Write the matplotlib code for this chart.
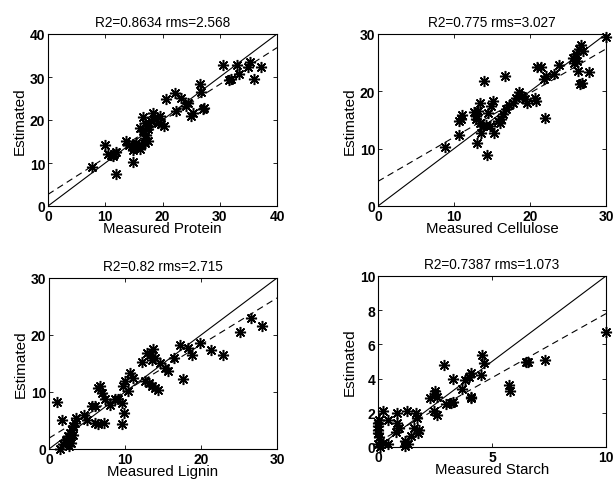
import matplotlib
matplotlib.use("Agg")
import matplotlib.pyplot as plt
import numpy as np

plt.rcParams['font.family'] = ['Liberation Sans', 'DejaVu Sans']

# ---------------- data ----------------
protein_meas = [7.6, 10.0, 11.9, 10.5, 11.0, 11.5, 11.9, 11.3, 14.9,
                13.7, 14.2, 14.7, 15.1, 15.7, 16.3, 16.9, 17.4, 15.4, 14.8, 16.0,
                16.9, 17.2, 16.6, 16.0, 16.6, 16.9, 17.4, 18.3, 18.6, 19.2, 19.8,
                20.3, 19.5, 18.0, 17.4,
                20.6, 22.1, 23.3, 22.4, 24.4, 24.1, 25.0, 25.3, 27.0, 27.3, 26.6,
                26.7, 30.6, 31.6, 32.0, 33.0, 33.4, 34.9, 35.3, 36.0, 37.2]
protein_est = [9.1, 14.1, 7.4, 12.2, 11.8, 12.2, 12.6, 11.7, 10.3,
               15.1, 14.3, 14.0, 13.6, 14.0, 14.3, 14.7, 15.1, 14.7, 13.0, 13.2,
               15.9, 16.4, 17.4, 18.2, 20.7, 19.3, 18.6, 21.7, 20.2, 19.4, 19.0,
               18.6, 20.9, 19.8, 17.8,
               24.8, 26.2, 25.2, 22.1, 23.9, 23.3, 20.9, 21.7, 22.6, 22.8, 28.3,
               26.4, 32.7, 29.3, 29.5, 32.9, 30.6, 32.4, 33.6, 29.6, 32.4]

cell_meas = [8.85, 10.6, 10.6, 11.1, 10.9, 12.6, 12.9, 13.1, 13.4, 13.0, 13.6,
             14.0, 14.3, 13.8, 14.2, 14.7, 14.9, 15.1, 14.5, 15.2, 12.9, 13.4,
             15.8, 16.2, 16.0, 16.5, 16.7, 16.9, 17.3, 17.8, 18.2, 18.5, 18.9,
             19.3, 19.6, 20.7, 20.8, 20.9, 21.4, 22.0, 21.9, 22.1, 23.2, 23.8,
             25.7, 26.0, 26.2, 25.8, 26.4, 26.7, 27.0, 26.3, 26.6, 26.9, 27.7, 30.0]
cell_est = [10.3, 12.3, 14.8, 15.8, 15.2, 16.4, 15.7, 16.6, 18.0, 11.0, 12.7,
            21.8, 8.9, 13.9, 14.2, 13.9, 17.4, 18.3, 16.3, 12.7, 15.1, 14.5,
            14.8, 15.1, 14.5, 16.0, 22.7, 17.0, 17.6, 18.0, 18.9, 19.8, 19.2,
            18.7, 17.9, 18.9, 18.3, 24.2, 24.3, 15.4, 22.1, 22.7, 23.0, 24.6,
            25.9, 26.5, 25.3, 25.0, 27.4, 28.1, 27.1, 23.6, 21.2, 21.5, 23.4, 29.4]

lignin_meas = [1.1, 1.7, 1.4, 1.9, 2.3, 2.5, 2.8, 3.0, 3.2, 3.4, 2.9, 2.6, 3.2,
               3.6, 2.8, 4.6, 5.0, 5.6, 6.0, 6.1, 6.5, 7.2, 6.5, 6.7, 7.0, 7.4,
               8.0, 8.7, 9.1, 9.6, 9.6, 9.9, 9.8, 10.0, 10.4, 10.7, 11.0, 12.6,
               13.1, 13.5, 14.0, 14.4, 12.2, 12.9, 13.3, 13.7, 13.5, 14.0, 14.6,
               15.3, 15.6, 16.4, 17.3, 17.6, 18.3, 18.8, 19.9, 21.3, 22.9, 25.1,
               26.6, 28.0]
lignin_est = [8.2, 5.1, 0.0, 0.8, 1.6, 2.2, 2.8, 3.4, 4.0, 4.6, 1.1, 0.5, 2.5,
              5.4, 1.9, 6.0, 5.1, 7.5, 7.6, 4.6, 4.3, 4.6, 10.7, 11.0, 9.8, 8.8,
              7.8, 8.8, 8.8, 8.1, 4.4, 6.3, 11.0, 11.9, 10.1, 13.3, 12.5, 11.9,
              11.6, 11.0, 10.7, 10.4, 15.2, 16.8, 16.5, 17.5, 15.7, 16.0, 15.1,
              14.2, 13.6, 16.0, 18.3, 12.2, 17.7, 16.5, 18.6, 17.3, 16.5, 20.5,
              23.0, 21.6]

starch_meas = [0.0, 0.0, 0.0, 0.0, 0.05, 0.05, 0.0, 0.1, 0.2, 0.23, 0.44, 0.44,
               0.85, 0.85, 0.8, 0.9, 1.25, 1.2, 1.3, 1.17, 1.43, 1.6, 1.65, 1.7,
               1.75, 1.8, 2.3, 2.45, 2.5, 2.5, 2.6, 2.6, 2.9, 3.0, 3.2, 3.3, 3.3,
               3.7, 3.8, 4.0, 4.06, 4.06, 4.1, 4.5, 4.57, 4.67, 5.74, 5.78, 6.5,
               6.57, 7.34, 10.0]
starch_est = [1.4, 1.2, 1.0, 0.8, 1.6, 0.6, 0.15, 0.0, 0.25, 2.1, 1.6, 0.2,
              2.0, 1.4, 0.9, 1.1, 2.1, 0.35, 0.15, 0.05, 0.64, 1.1, 2.0, 1.7,
              0.84, 1.0, 2.85, 2.1, 3.3, 3.1, 2.9, 1.9, 4.8, 2.5, 2.6, 2.65, 4.0,
              3.4, 3.9, 4.1, 4.35, 2.9, 2.85, 4.2, 5.4, 4.9, 3.6, 3.3, 5.0, 5.0,
              5.07, 6.7]

titles = ["R2=0.8634 rms=2.568", "R2=0.775 rms=3.027",
          "R2=0.82 rms=2.715", "R2=0.7387 rms=1.073"]
xlabels = ["Measured Protein", "Measured Cellulose",
           "Measured Lignin", "Measured Starch"]
limits = [40, 30, 30, 10]
xticks_list = [[0, 10, 20, 30, 40], [0, 10, 20, 30], [0, 10, 20, 30], [0, 5, 10]]
yticks_list = [[0, 10, 20, 30, 40], [0, 10, 20, 30], [0, 10, 20, 30],
               [0, 2, 4, 6, 8, 10]]
# regression line (intercept, slope)
fit_intercepts = [2.7, 4.3, 1.9, 0.3]
fit_slopes = [0.853, 0.77, 0.82, 0.75]

meas = [protein_meas, cell_meas, lignin_meas, starch_meas]
est = [protein_est, cell_est, lignin_est, starch_est]

# ---------------- figure ----------------
W, H = 616, 485
fig = plt.figure(figsize=(W / 100, H / 100), dpi=100)

boxes = [(48, 35, 277, 207), (378, 35, 606, 207),
         (49, 279, 277, 450), (378, 277, 606, 448)]

for i in range(4):
    l, t, r, b = boxes[i]
    ax = fig.add_axes([l / W, (H - b) / H, (r - l) / W, (b - t) / H])
    lim = limits[i]
    ax.plot([0, lim], [0, lim], color='black', lw=0.8)
    xs = np.array([0, lim])
    ax.plot(xs, fit_intercepts[i] + fit_slopes[i] * xs, color='black',
            lw=0.8, ls=(0, (6, 4)))
    ax.plot(meas[i], est[i], ls='none', marker=(8, 2, 0), color='black',
            markersize=8, markeredgewidth=1.1, clip_on=False)
    ax.set_xlim(0, lim)
    ax.set_ylim(0, lim)
    ax.set_xticks(xticks_list[i])
    ax.set_yticks(yticks_list[i])
    ax.tick_params(direction='in', length=3, width=0.6, top=True, right=True,
                   labelsize=10, pad=2)
    for lab in ax.get_xticklabels() + ax.get_yticklabels():
        lab.set_fontweight('bold')
    for s in ax.spines.values():
        s.set_linewidth(0.8)
    ax.set_title(titles[i], fontsize=9.8, pad=6)
    ax.set_xlabel(xlabels[i], fontsize=10.8, labelpad=-1)
    ax.set_ylabel("Estimated", fontsize=11, labelpad=2)

fig.savefig("out.png", dpi=100)
